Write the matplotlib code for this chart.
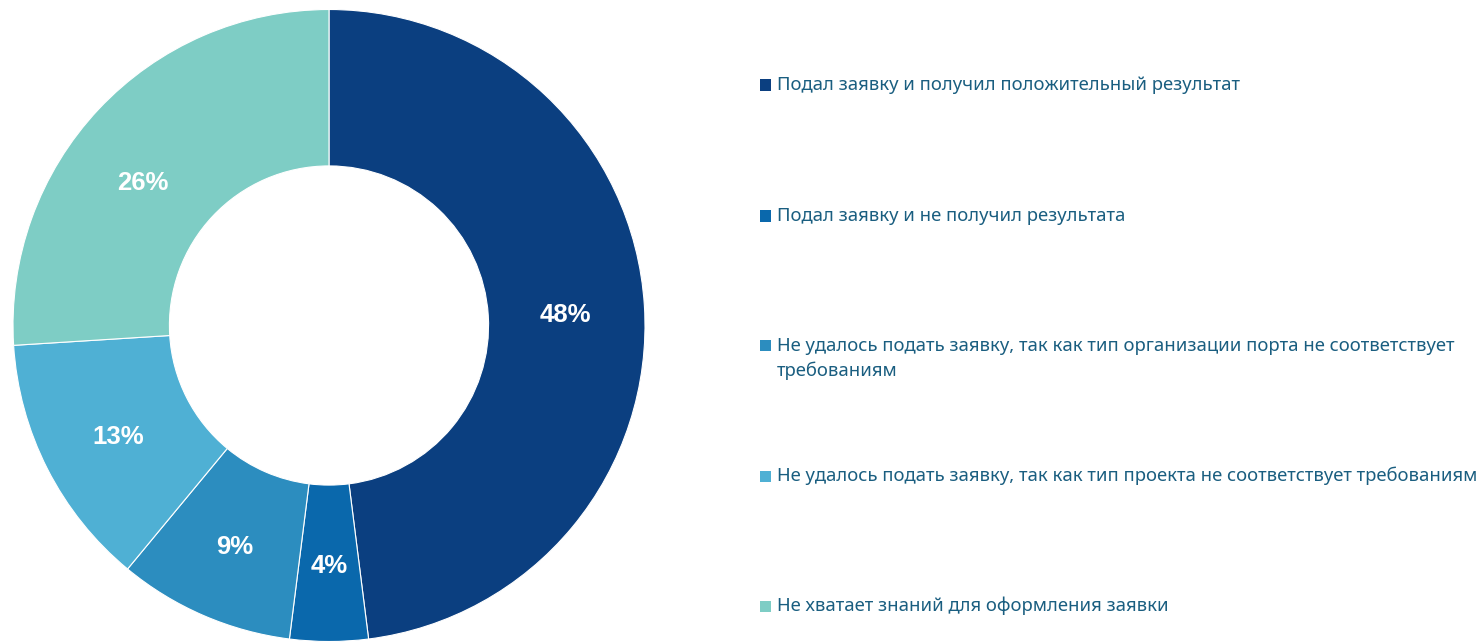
import matplotlib.pyplot as plt
from matplotlib.patches import Rectangle

labels = [
    'Подал заявку и получил положительный результат',
    'Подал заявку и не получил результата',
    'Не удалось подать заявку, так как тип организации порта не соответствует\nтребованиям',
    'Не удалось подать заявку, так как тип проекта не соответствует требованиям',
    'Не хватает знаний для оформления заявки',
]
shares = [48, 4, 9, 13, 26]
colors = ['#0b3f80', '#0a68ac', '#2c8dbf', '#4fb0d4', '#7ecdc5']

W, H = 1480, 643
fig = plt.figure(figsize=(W / 100, H / 100), dpi=100)

# donut on the left
R = 316
ax = fig.add_axes([13 / W, 1.5 / H, 632 / W, 632 / H])
wedges, _, autotexts = ax.pie(
    shares, colors=colors, startangle=90, counterclock=False,
    radius=1, pctdistance=0.75, autopct=lambda p: f'{p:.0f}%',
    wedgeprops=dict(width=0.495, edgecolor='white', linewidth=0.8),
    textprops=dict(color='white', fontsize=18.5, fontweight='bold',
                   family='Liberation Sans'))
# nudge the percentage labels slightly down, the top-left one further in
for t in autotexts:
    x, y = t.get_position()
    t.set_position((x, y - 4 / R))
x, y = autotexts[4].get_position()
autotexts[4].set_position((x - 13 / R, y - 16 / R))
ax.set_xlim(-1, 1)
ax.set_ylim(-1, 1)
ax.set_aspect('equal')
ax.axis('off')

# legend on the right
text_color = '#1a5e80'
label_y = [85, 216, 358.5, 476, 606]
marker_y = [85, 216, 345, 476, 606]
for lab, col, ty, my in zip(labels, colors, label_y, marker_y):
    fig.add_artist(Rectangle((760 / W, 1 - (my + 5.5) / H), 11 / W, 11 / H,
                             transform=fig.transFigure, color=col, lw=0))
    fig.text(777 / W, 1 - ty / H, lab, color=text_color, fontsize=13.3,
             family='Noto Sans', va='center', ha='left', linespacing=1.5)

fig.savefig('out.png', dpi=100)
